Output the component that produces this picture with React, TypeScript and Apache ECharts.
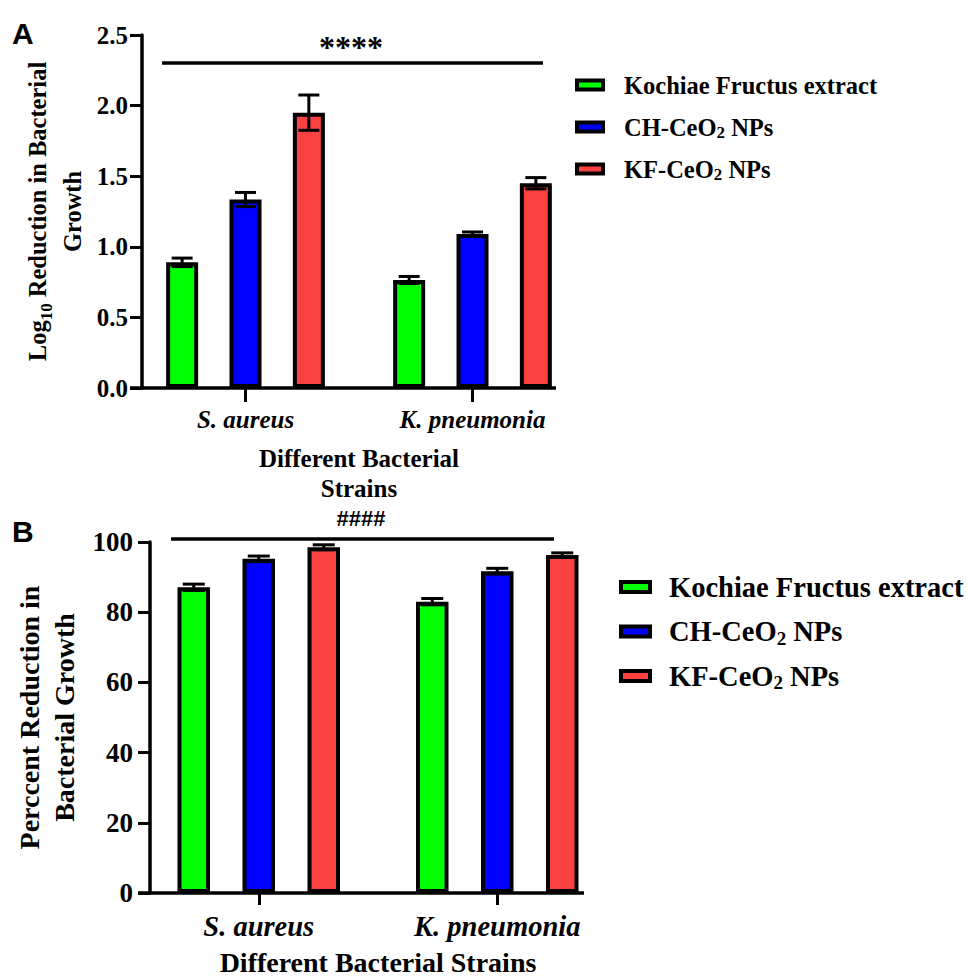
import React, { useEffect, useRef } from 'react';
import * as echarts from 'echarts';

// ---------- data ----------
const categories = ['S. aureus', 'K. pneumonia'];
const seriesNames = ['Kochiae Fructus extract', 'CH-CeO2 NPs', 'KF-CeO2 NPs'];
const seriesColors = ['#00FF00', '#0000FF', '#FA4141'];

// Panel A: Log10 reduction
const logKochiae = [0.89, 0.765];
const logKochiaeErr = [0.03, 0.025];
const logCH = [1.335, 1.09];
const logCHErr = [0.05, 0.015];
const logKF = [1.95, 1.45];
const logKFErr = [0.125, 0.04];

// Panel B: percent reduction
const pctKochiae = [87.1, 83.0];
const pctKochiaeErr = [0.9, 0.9];
const pctCH = [95.2, 91.7];
const pctCHErr = [0.8, 0.8];
const pctKF = [98.5, 96.3];
const pctKFErr = [0.7, 0.6];

const starsA = '****';
const hashB = '####';

// ---------- style ----------
const SERIF = '"Liberation Serif", "Times New Roman", serif';
const SANS = '"Liberation Sans", Arial, sans-serif';

const A_BAR_W = 32;
const A_GAP = 0.98;
const B_BAR_W = 32.5;
const B_GAP = 1.0;

function errRenderer(step: number, cap: number) {
  return (params: any, api: any) => {
    const cat = api.value(0);
    const v = api.value(1);
    const e = api.value(2);
    const si = api.value(3);
    const c = api.coord([cat, v]);
    const x = c[0] + (si - 1) * step;
    const top = api.coord([cat, v + e])[1];
    const bot = api.coord([cat, v - e])[1];
    const st = { stroke: '#000', lineWidth: 3 };
    return {
      type: 'group',
      children: [
        { type: 'line', shape: { x1: x, y1: top, x2: x, y2: bot }, style: st },
        { type: 'line', shape: { x1: x - cap / 2, y1: top, x2: x + cap / 2, y2: top }, style: st },
        { type: 'line', shape: { x1: x - cap / 2, y1: bot, x2: x + cap / 2, y2: bot }, style: st },
      ],
    };
  };
}

function errData(vals: number[][], errs: number[][]) {
  const out: number[][] = [];
  vals.forEach((arr, si) => arr.forEach((v, ci) => out.push([ci, v, errs[si][ci], si])));
  return out;
}

const subRich = (size: number) => ({
  sub: { fontFamily: SERIF, fontWeight: 'bold', fontSize: size, lineHeight: size, verticalAlign: 'bottom', color: '#000' },
});

function legendOpt(left: number, top: number, fs: number, lh: number, gap: number, iw: number, ih: number, pad: number) {
  return {
    orient: 'vertical',
    left,
    top,
    padding: 0,
    icon: 'rect',
    itemWidth: iw,
    itemHeight: ih,
    itemGap: gap,
    selectedMode: false,
    data: seriesNames,
    itemStyle: { borderColor: '#000', borderWidth: 4 },
    formatter: (n: string) => n.replace('CeO2', 'CeO{sub|2}'),
    textStyle: {
      fontFamily: SERIF,
      fontWeight: 'bold',
      fontSize: fs,
      lineHeight: lh,
      color: '#000',
      padding: [0, 0, 0, pad],
      rich: subRich(Math.round(fs * 0.68)),
    },
  };
}

export default function App() {
  const ref = useRef<HTMLDivElement>(null);
  useEffect(() => {
    if (!ref.current) return;
    const chart = echarts.init(ref.current, undefined, { renderer: 'svg' });
    const axisLineStyle = { color: '#000', width: 3.5 };
    const aVals = [logKochiae, logCH, logKF];
    const aErrs = [logKochiaeErr, logCHErr, logKFErr];
    const bVals = [pctKochiae, pctCH, pctKF];
    const bErrs = [pctKochiaeErr, pctCHErr, pctKFErr];

    const option: any = {
      animation: false,
      backgroundColor: '#fff',
      grid: [
        { left: 132, top: 35, width: 454, height: 353, outerBoundsMode: 'none' },
        { left: 139.5, top: 542, width: 477, height: 351, outerBoundsMode: 'none' },
      ],
      legend: [
        legendOpt(575, 71, 24.5, 28, 14, 26, 9, 16),
        legendOpt(619, 571, 28.5, 32, 12.5, 29, 10, 14),
      ],
      xAxis: [
        {
          type: 'category',
          gridIndex: 0,
          data: categories,
          axisLine: { show: false },
          axisTick: { show: true, alignWithLabel: true, length: 14, lineStyle: { color: '#000', width: 3 } },
          axisLabel: { margin: 19, fontFamily: SERIF, fontWeight: 'bold', fontStyle: 'italic', fontSize: 25, color: '#000' },
          name: 'Different Bacterial\nStrains',
          nameLocation: 'middle',
          nameGap: 55,
          nameTextStyle: { fontFamily: SERIF, fontWeight: 'bold', fontSize: 25, lineHeight: 30, color: '#000' },
        },
        {
          type: 'category',
          gridIndex: 1,
          data: categories,
          axisLine: { show: false },
          axisTick: { show: true, alignWithLabel: true, length: 12, lineStyle: { color: '#000', width: 3 } },
          axisLabel: { margin: 19, fontFamily: SERIF, fontWeight: 'bold', fontStyle: 'italic', fontSize: 28.5, color: '#000' },
          name: 'Different Bacterial Strains',
          nameLocation: 'middle',
          nameGap: 53,
          nameTextStyle: { fontFamily: SERIF, fontWeight: 'bold', fontSize: 28, lineHeight: 32, color: '#000' },
        },
      ],
      yAxis: [
        {
          type: 'value',
          gridIndex: 0,
          min: 0,
          max: 2.5,
          interval: 0.5,
          offset: -10,
          axisLine: { show: true, lineStyle: axisLineStyle },
          axisTick: { show: true, length: 12, lineStyle: { color: '#000', width: 3 } },
          splitLine: { show: false },
          axisLabel: {
            margin: 14,
            fontFamily: SERIF,
            fontWeight: 'bold',
            fontSize: 25,
            color: '#000',
            formatter: (v: number) => v.toFixed(1),
          },
          name: 'Log{sub|10} Reduction in Bacterial\nGrowth',
          nameLocation: 'middle',
          nameGap: 52,
          nameRotate: 90,
          nameTextStyle: {
            fontFamily: SERIF,
            fontWeight: 'bold',
            fontSize: 24.5,
            lineHeight: 35,
            color: '#000',
            rich: subRich(17),
          },
        },
        {
          type: 'value',
          gridIndex: 1,
          min: 0,
          max: 100,
          interval: 20,
          offset: -10.5,
          axisLine: { show: true, lineStyle: axisLineStyle },
          axisTick: { show: true, length: 12, lineStyle: { color: '#000', width: 3 } },
          splitLine: { show: false },
          axisLabel: { margin: 17, fontFamily: SERIF, fontWeight: 'bold', fontSize: 27, color: '#000' },
          name: 'Perccent Reduction in\nBacterial Growth',
          nameLocation: 'middle',
          nameGap: 68,
          nameRotate: 90,
          nameTextStyle: { fontFamily: SERIF, fontWeight: 'bold', fontSize: 28, lineHeight: 35, color: '#000' },
        },
      ],
      series: [
        ...aVals.map((vals, i) => ({
          type: 'bar',
          name: seriesNames[i],
          xAxisIndex: 0,
          yAxisIndex: 0,
          data: vals,
          barWidth: A_BAR_W,
          barGap: `${A_GAP * 100}%`,
          itemStyle: { color: seriesColors[i], borderColor: '#000', borderWidth: 4 },
          z: 2,
        })),
        ...bVals.map((vals, i) => ({
          type: 'bar',
          name: seriesNames[i],
          xAxisIndex: 1,
          yAxisIndex: 1,
          data: vals,
          barWidth: B_BAR_W,
          barGap: `${B_GAP * 100}%`,
          itemStyle: { color: seriesColors[i], borderColor: '#000', borderWidth: 4 },
          z: 2,
        })),
        {
          type: 'custom',
          xAxisIndex: 0,
          yAxisIndex: 0,
          renderItem: errRenderer(A_BAR_W * (1 + A_GAP), 21),
          data: errData(aVals, aErrs),
          encode: { x: 0, y: 1 },
          z: 5,
          silent: true,
        },
        {
          type: 'custom',
          xAxisIndex: 1,
          yAxisIndex: 1,
          renderItem: errRenderer(B_BAR_W * (1 + B_GAP), 22),
          data: errData(bVals, bErrs),
          encode: { x: 0, y: 1 },
          z: 5,
          silent: true,
        },
      ],
      graphic: [
        // x-axis baselines
        { type: 'line', shape: { x1: 130, y1: 388, x2: 556, y2: 388 }, style: { stroke: '#000', lineWidth: 3.5 }, z: 10 },
        { type: 'line', shape: { x1: 138, y1: 893, x2: 584, y2: 893 }, style: { stroke: '#000', lineWidth: 3.5 }, z: 10 },
        // panel letters
        { type: 'text', left: 12, top: 18, style: { text: 'A', font: `bold 30px ${SANS}`, fill: '#000' } },
        { type: 'text', left: 12, top: 516, style: { text: 'B', font: `bold 30px ${SANS}`, fill: '#000' } },
        // significance A
        { type: 'line', shape: { x1: 162, y1: 63, x2: 543, y2: 63 }, style: { stroke: '#000', lineWidth: 3.5 } },
        { type: 'text', x: 351, y: 47, style: { text: starsA, font: `bold 32px ${SERIF}`, fill: '#000', align: 'center', verticalAlign: 'middle' } },
        // significance B
        { type: 'line', shape: { x1: 171, y1: 539, x2: 554, y2: 539 }, style: { stroke: '#000', lineWidth: 3.5 } },
        { type: 'text', x: 361, y: 518, style: { text: hashB, font: `bold 22px ${SANS}`, fill: '#000', align: 'center', verticalAlign: 'middle' } },
      ],
    };
    chart.setOption(option);
    return () => chart.dispose();
  }, []);
  return <div ref={ref} style={{ position: 'absolute', left: 0, top: 0, width: 969, height: 978 }} />;
}
